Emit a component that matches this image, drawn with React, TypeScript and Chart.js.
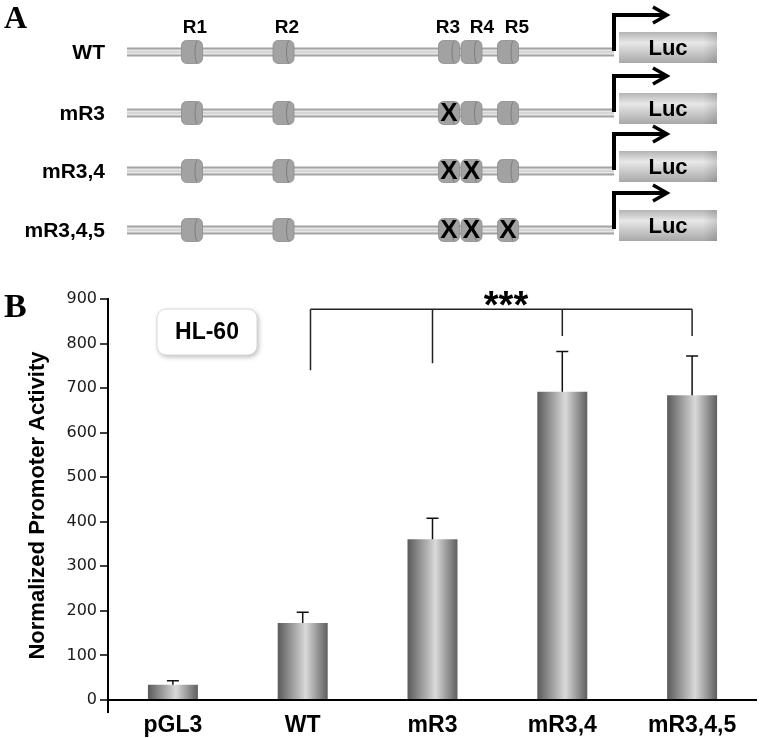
import React, { useEffect, useRef } from "react";
import { Chart, registerables } from "chart.js";

Chart.register(...registerables);

// ---- Panel B data ----
const categories = ["pGL3", "WT", "mR3", "mR3,4", "mR3,4,5"];
const activity = [34, 173, 361, 692, 684];
const errors = [9, 24, 47, 90, 88];
const yTicks = [0, 100, 200, 300, 400, 500, 600, 700, 800, 900];
// significance bracket: category positions and lower ends of the drops
const bracketPositions = [1.06, 2, 3, 4];
const bracketDropEnds = [740, 756, 817, 817];
const bracketLevel = 877;
const cellLine = "HL-60";

// ---- Panel A data ----
const constructs = ["WT", "mR3", "mR3,4", "mR3,4,5"];
const regionNames = ["R1", "R2", "R3", "R4", "R5"];
const mutatedRegions = [[], ["R3"], ["R3", "R4"], ["R3", "R4", "R5"]];

const BAR_FRAC = 0.385;
const SANS = "'Liberation Sans', Arial, sans-serif";

const panelAPlugin = {
  id: "panelA",
  afterDraw(chart: any) {
    const ctx = chart.ctx;
    ctx.save();
    // Letters
    ctx.fillStyle = "#000";
    ctx.textAlign = "left";
    ctx.textBaseline = "alphabetic";
    ctx.font = "bold 32px 'Liberation Serif', serif";
    ctx.fillText("A", 4, 28);
    ctx.font = "bold 34px 'Liberation Serif', serif";
    ctx.fillText("B", 4, 317);

    const rowY = [52, 113, 171, 230];
    const regionX = [192, 283.5, 449, 471.5, 508];
    const regionLabelX = [195, 287, 448, 482, 517];
    const lineL = 127, lineR = 614;

    // region labels
    ctx.font = `bold 19px ${SANS}`;
    ctx.textAlign = "center";
    ctx.textBaseline = "middle";
    regionNames.forEach((r, i) => ctx.fillText(r, regionLabelX[i], 28));

    constructs.forEach((name, ri) => {
      const y = rowY[ri];
      // label
      ctx.font = `bold 21px ${SANS}`;
      ctx.textAlign = "right";
      ctx.textBaseline = "middle";
      ctx.fillStyle = "#000";
      ctx.fillText(name, 105, y + 1);
      // DNA line
      ctx.fillStyle = "#a4a4a4";
      ctx.fillRect(lineL, y - 4.5, lineR - lineL, 9);
      ctx.fillStyle = "#e6e6e6";
      ctx.fillRect(lineL, y - 2.5, lineR - lineL, 5);
      ctx.fillStyle = "#c4c4c4";
      ctx.fillRect(lineL, y - 0.5, lineR - lineL, 1);
      // regions
      regionNames.forEach((r, i) => {
        const cx = regionX[i];
        const w = 21, h = 23;
        const x0 = cx - w / 2, y0 = y - h / 2;
        ctx.beginPath();
        ctx.roundRect(x0, y0, w, h, 5);
        ctx.fillStyle = "#a2a2a2";
        ctx.fill();
        ctx.strokeStyle = "#8c8c8c";
        ctx.lineWidth = 0.8;
        ctx.stroke();
        ctx.beginPath();
        ctx.ellipse(x0 + w - 5, y, 2.5, h / 2 - 0.5, 0, -Math.PI / 2, Math.PI / 2, true);
        ctx.strokeStyle = "#7e7e7e";
        ctx.lineWidth = 1;
        ctx.stroke();
        if ((mutatedRegions[ri] as string[]).includes(r)) {
          ctx.fillStyle = "#000";
          ctx.font = `bold 26px ${SANS}`;
          ctx.textAlign = "center";
          ctx.textBaseline = "middle";
          ctx.fillText("X", cx, y + 1);
        }
      });
      // Luc box
      const bx = 619, bw = 98, by = y - 20, bh = 31;
      const g = ctx.createLinearGradient(0, by, 0, by + bh);
      g.addColorStop(0, "#b4b4b4");
      g.addColorStop(0.35, "#e8e8e8");
      g.addColorStop(1, "#a8a8a8");
      ctx.fillStyle = g;
      ctx.fillRect(bx, by, bw, bh);
      const g2 = ctx.createLinearGradient(bx + bw - 14, 0, bx + bw, 0);
      g2.addColorStop(0, "rgba(0,0,0,0)");
      g2.addColorStop(1, "rgba(0,0,0,0.12)");
      ctx.fillStyle = g2;
      ctx.fillRect(bx + bw - 14, by, 14, bh);
      ctx.fillStyle = "#000";
      ctx.font = `bold 22px ${SANS}`;
      ctx.textAlign = "center";
      ctx.textBaseline = "middle";
      ctx.fillText("Luc", bx + bw / 2, y - 3.5);
      // arrow
      ctx.strokeStyle = "#000";
      ctx.lineWidth = 4;
      ctx.lineCap = "butt";
      ctx.lineJoin = "miter";
      ctx.beginPath();
      ctx.moveTo(614, y - 1);
      ctx.lineTo(614, y - 37);
      ctx.lineTo(666, y - 37);
      ctx.stroke();
      ctx.lineWidth = 3.5;
      ctx.beginPath();
      ctx.moveTo(653, y - 45);
      ctx.lineTo(667, y - 37);
      ctx.lineTo(653, y - 29);
      ctx.stroke();
    });
    ctx.restore();
  },
};

const annotationsPlugin = {
  id: "annotations",
  afterDatasetsDraw(chart: any) {
    const ctx = chart.ctx;
    const xs = chart.scales.x;
    const ys = chart.scales.y;
    const meta = chart.getDatasetMeta(0);
    ctx.save();
    // error bars
    ctx.strokeStyle = "#111";
    ctx.lineWidth = 1.5;
    meta.data.forEach((el: any, i: number) => {
      const x = el.x;
      const yb = ys.getPixelForValue(activity[i]);
      const yt = ys.getPixelForValue(activity[i] + errors[i]);
      ctx.beginPath();
      ctx.moveTo(x, yb);
      ctx.lineTo(x, yt);
      ctx.moveTo(x - 6, yt);
      ctx.lineTo(x + 6, yt);
      ctx.stroke();
    });
    // bracket
    const yb = ys.getPixelForValue(bracketLevel);
    const xsPos = bracketPositions.map((p) => xs.getPixelForValue(p));
    ctx.strokeStyle = "#222";
    ctx.lineWidth = 1.5;
    ctx.beginPath();
    ctx.moveTo(xsPos[0], yb);
    ctx.lineTo(xsPos[xsPos.length - 1], yb);
    xsPos.forEach((x, i) => {
      ctx.moveTo(x, yb);
      ctx.lineTo(x, ys.getPixelForValue(bracketDropEnds[i]));
    });
    ctx.stroke();
    ctx.fillStyle = "#000";
    ctx.font = `bold 38px ${SANS}`;
    ctx.textAlign = "center";
    ctx.textBaseline = "alphabetic";
    ctx.fillText("***", 506, 318);

    // HL-60 box
    ctx.save();
    ctx.shadowColor = "rgba(0,0,0,0.28)";
    ctx.shadowBlur = 5;
    ctx.shadowOffsetX = 1.5;
    ctx.shadowOffsetY = 2;
    ctx.beginPath();
    ctx.roundRect(157, 309, 100, 46, 9);
    ctx.fillStyle = "#fff";
    ctx.fill();
    ctx.restore();
    ctx.beginPath();
    ctx.roundRect(157, 309, 100, 46, 9);
    ctx.strokeStyle = "#d8d8d8";
    ctx.lineWidth = 1;
    ctx.stroke();
    ctx.fillStyle = "#000";
    ctx.font = `bold 23px ${SANS}`;
    ctx.textAlign = "center";
    ctx.textBaseline = "middle";
    ctx.fillText(cellLine, 207, 333);
    ctx.restore();
  },
};

export default function App() {
  const ref = useRef<HTMLCanvasElement>(null);
  useEffect(() => {
    if (!ref.current) return;
    const chart = new Chart(ref.current, {
      type: "bar",
      data: {
        labels: categories,
        datasets: [
          {
            data: activity,
            barPercentage: BAR_FRAC,
            categoryPercentage: 1,
            borderWidth: 0,
            backgroundColor: (c: any) => {
              const ch = c.chart;
              if (!ch.chartArea || c.type !== "data") return "#999";
              const xs = ch.scales.x;
              const cx = xs.getPixelForValue(c.dataIndex);
              const w = (xs.width / categories.length) * BAR_FRAC;
              const g = ch.ctx.createLinearGradient(cx - w / 2, 0, cx + w / 2, 0);
              g.addColorStop(0, "#5a5a5a");
              g.addColorStop(0.56, "#d9d9d9");
              g.addColorStop(1, "#5e5e5e");
              return g;
            },
          },
        ],
      },
      options: {
        responsive: false,
        animation: false,
        devicePixelRatio: 1,
        events: [],
        layout: { padding: { top: 299, left: 0, right: 4, bottom: 0 } },
        plugins: { legend: { display: false }, tooltip: { enabled: false } },
        scales: {
          x: {
            grid: { display: false, drawTicks: false },
            border: { display: false },
            ticks: {
              color: "#000",
              padding: 0,
              font: { family: SANS, weight: "bold", size: 23 },
              maxRotation: 0,
            },
            afterFit: (s: any) => {
              s.height = 26;
            },
          },
          y: {
            min: -27,
            max: 900,
            afterBuildTicks: (s: any) => {
              s.ticks = yTicks.map((v) => ({ value: v }));
            },
            grid: {
              drawOnChartArea: true,
              color: (c: any) => (c.tick && c.tick.value === 0 ? "#000" : "rgba(0,0,0,0)"),
              lineWidth: 2,
              tickColor: "#000",
              tickLength: 8,
              tickWidth: 1.5,
            },
            border: { display: true, color: "#000", width: 2 },
            ticks: {
              color: "#1a1a1a",
              padding: 3,
              font: { family: "'DejaVu Sans', sans-serif", size: 16 },
            },
            title: {
              display: true,
              text: "Normalized Promoter Activity",
              color: "#000",
              font: { family: SANS, weight: "bold", size: 22 },
              padding: { top: 25, bottom: 0 },
            },
            afterFit: (s: any) => {
              s.width = 108;
            },
          },
        },
      },
      plugins: [panelAPlugin, annotationsPlugin],
    });
    return () => chart.destroy();
  }, []);
  return (
    <div style={{ position: "absolute", left: 0, top: 0, width: 761, height: 738, background: "#fff" }}>
      <canvas ref={ref} width={761} height={738} style={{ display: "block" }} />
    </div>
  );
}
